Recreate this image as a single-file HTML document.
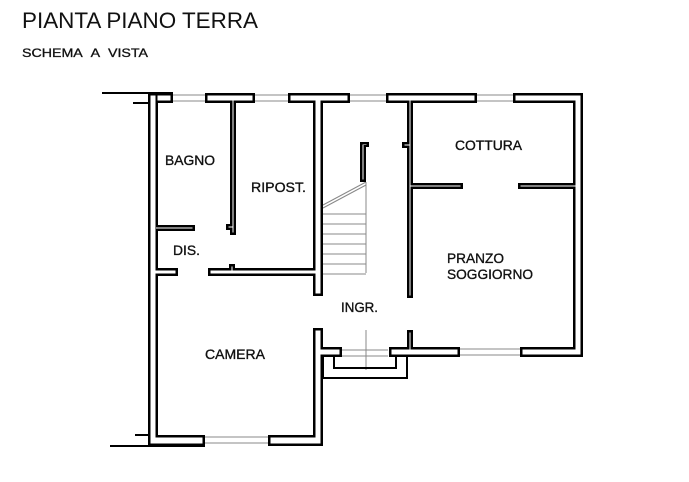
<!DOCTYPE html>
<html><head><meta charset="utf-8"><style>
html,body{margin:0;padding:0;background:#fff;width:689px;height:482px;overflow:hidden}
svg{display:block}
text{font-family:"Liberation Sans",Arial,sans-serif;fill:#111}
</style></head><body>
<svg width="689" height="482" viewBox="0 0 689 482" xmlns="http://www.w3.org/2000/svg">
<text x="22" y="28" font-size="22" textLength="236" lengthAdjust="spacingAndGlyphs">PIANTA PIANO TERRA</text>
<text x="22" y="57" font-size="12" textLength="126" lengthAdjust="spacingAndGlyphs" stroke="#111" stroke-width="0.3">SCHEMA&#160;&#160;A&#160;&#160;VISTA</text>

<g stroke="#888" stroke-width="1" fill="none">
<line x1="173" y1="95" x2="205" y2="95"/><line x1="173" y1="101" x2="205" y2="101"/>
<line x1="255" y1="95" x2="288" y2="95"/><line x1="255" y1="101" x2="288" y2="101"/>
<line x1="350" y1="95" x2="386" y2="95"/><line x1="350" y1="101" x2="386" y2="101"/>
<line x1="477" y1="95" x2="513" y2="95"/><line x1="477" y1="101" x2="513" y2="101"/>
<line x1="460" y1="349" x2="524" y2="349"/><line x1="460" y1="355" x2="524" y2="355"/>
<line x1="205" y1="437" x2="268" y2="437"/><line x1="205" y1="443" x2="268" y2="443"/>
<line x1="342" y1="350" x2="388" y2="350"/><line x1="342" y1="356" x2="388" y2="356"/>
<line x1="366" y1="330" x2="366" y2="370"/>
<line x1="323" y1="205" x2="366" y2="182"/>
<line x1="323" y1="208" x2="366" y2="185"/>
<line x1="366" y1="182" x2="366" y2="273"/>
<line x1="323" y1="214" x2="366" y2="214"/>
<line x1="323" y1="224" x2="366" y2="224"/>
<line x1="323" y1="234" x2="366" y2="234"/>
<line x1="323" y1="244" x2="366" y2="244"/>
<line x1="323" y1="254" x2="366" y2="254"/>
<line x1="323" y1="264" x2="366" y2="264"/>
<line x1="323" y1="274" x2="366" y2="274"/>
</g>
<g stroke="#000" stroke-width="2" fill="none">
<line x1="102" y1="93" x2="173" y2="93"/>
<line x1="133" y1="103" x2="148" y2="103"/>
<line x1="110" y1="446" x2="205" y2="446"/>
<line x1="135" y1="435" x2="148" y2="435"/>
<polyline points="334,355 334,368 396,368 396,355"/>
<polyline points="323,357 323,378 407,378 407,355"/>
</g>

<g fill="#000">
<rect x="155" y="93" width="18" height="10"/>
<rect x="205" y="93" width="50" height="10"/>
<rect x="288" y="93" width="62" height="10"/>
<rect x="386" y="93" width="91" height="10"/>
<rect x="513" y="93" width="70" height="10"/>
<rect x="573" y="93" width="10" height="264"/>
<rect x="520" y="347" width="63" height="10"/>
<rect x="389" y="347" width="71" height="10"/>
<rect x="407" y="330" width="6" height="20"/>
<rect x="407" y="93" width="6" height="205"/>
<rect x="402" y="142" width="8" height="6"/>
<rect x="407" y="183" width="56" height="6"/>
<rect x="518" y="183" width="60" height="6"/>
<rect x="313" y="93" width="10" height="203"/>
<rect x="360" y="142" width="9" height="5"/>
<rect x="360" y="142" width="6" height="40"/>
<rect x="148" y="93" width="10" height="352"/>
<rect x="230" y="93" width="6" height="142"/>
<rect x="226" y="224" width="10" height="6"/>
<rect x="158" y="225" width="37" height="6"/>
<rect x="148" y="268" width="30" height="8"/>
<rect x="208" y="268" width="115" height="8"/>
<rect x="229" y="264" width="6" height="8"/>
<rect x="313" y="328" width="10" height="118"/>
<rect x="313" y="347" width="29" height="10"/>
<rect x="148" y="435" width="57" height="11"/>
<rect x="268" y="435" width="55" height="11"/>
</g>
<g fill="#fff">
<rect x="157.5" y="95.5" width="13" height="5"/>
<rect x="207.5" y="95.5" width="45" height="5"/>
<rect x="290.5" y="95.5" width="57" height="5"/>
<rect x="388.5" y="95.5" width="86" height="5"/>
<rect x="515.5" y="95.5" width="65" height="5"/>
<rect x="575.5" y="95.5" width="5" height="259"/>
<rect x="522.5" y="349.5" width="58" height="5"/>
<rect x="391.5" y="349.5" width="66" height="5"/>
<rect x="409.5" y="332.5" width="1" height="17"/>
<rect x="409.5" y="95.5" width="1" height="200"/>
<rect x="404.5" y="144.5" width="5" height="1"/>
<rect x="409.5" y="185.5" width="51" height="1"/>
<rect x="520.5" y="185.5" width="55" height="1"/>
<rect x="315.5" y="95.5" width="5" height="198"/>
<rect x="362.5" y="144.5" width="4" height="0.5"/>
<rect x="362.5" y="144.5" width="1" height="35"/>
<rect x="150.5" y="95.5" width="5" height="347"/>
<rect x="232.5" y="95.5" width="1" height="137"/>
<rect x="228.5" y="226.5" width="5" height="1"/>
<rect x="156" y="227.5" width="36.5" height="1"/>
<rect x="150.5" y="270.5" width="25" height="3"/>
<rect x="210.5" y="270.5" width="110" height="3"/>
<rect x="231.5" y="266.5" width="1" height="5"/>
<rect x="315.5" y="330.5" width="5" height="113"/>
<rect x="315.5" y="349.5" width="24" height="5"/>
<rect x="150.5" y="437.5" width="52" height="6"/>
<rect x="270.5" y="437.5" width="50" height="6"/>
</g>

<g font-size="14" stroke="#111" stroke-width="0.35">
<text x="165" y="165" textLength="50" lengthAdjust="spacingAndGlyphs">BAGNO</text>
<text x="251" y="192" textLength="55" lengthAdjust="spacingAndGlyphs">RIPOST.</text>
<text x="173" y="255" textLength="27" lengthAdjust="spacingAndGlyphs">DIS.</text>
<text x="341" y="312" textLength="37" lengthAdjust="spacingAndGlyphs">INGR.</text>
<text x="205" y="359" textLength="60" lengthAdjust="spacingAndGlyphs">CAMERA</text>
<text x="455" y="150" textLength="67" lengthAdjust="spacingAndGlyphs">COTTURA</text>
<text x="447" y="263" textLength="57" lengthAdjust="spacingAndGlyphs">PRANZO</text>
<text x="447" y="279" textLength="86" lengthAdjust="spacingAndGlyphs">SOGGIORNO</text>
</g>
</svg>
</body></html>
